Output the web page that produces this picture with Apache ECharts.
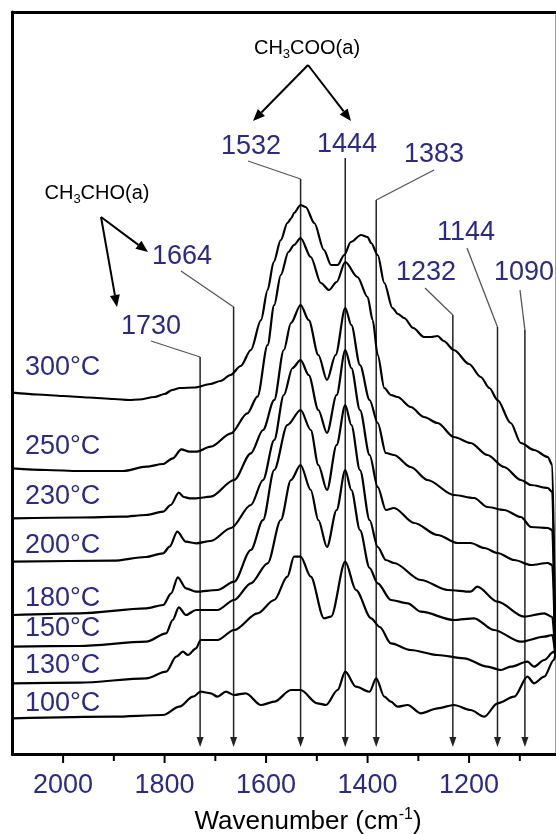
<!DOCTYPE html>
<html>
<head>
<meta charset="utf-8">
<script src="https://cdn.jsdelivr.net/npm/echarts@6/dist/echarts.min.js"></script>
<style>
  html, body { margin: 0; padding: 0; background: #ffffff; }
  #chart { width: 556px; height: 834px; }
</style>
</head>
<body>
<div id="chart"></div>
<script>
// In-situ IR spectra, stacked by temperature: [wavenumber (cm-1), absorbance + offset (a.u.)]
const spec300 = [[2100,3.613],[2050,3.595],[2000,3.58],[1950,3.565],[1900,3.55],[1870,3.54],[1850,3.545],[1820,3.57],[1800,3.60],[1785,3.64],[1770,3.66],[1740,3.665],[1710,3.70],[1690,3.73],[1670,3.79],[1650,3.88],[1630,4.04],[1610,4.34],[1597,4.64],[1585,4.92],[1571,5.14],[1558,5.31],[1550,5.36],[1545,5.41],[1532,5.49],[1522,5.47],[1505,5.31],[1486,5.04],[1472,4.89],[1459,4.89],[1446,4.99],[1433,5.12],[1413,5.19],[1400,5.17],[1393,5.11],[1380,4.99],[1367,4.71],[1351,4.46],[1340,4.40],[1328,4.36],[1310,4.26],[1289,4.17],[1275,4.17],[1262,4.18],[1250,4.13],[1230,4.04],[1200,3.90],[1177,3.77],[1160,3.66],[1144,3.54],[1118,3.31],[1098,3.11],[1072,3.04],[1045,2.97],[1036,2.89],[1030,0.99]];
const spec250 = [[2100,2.857],[2033,2.84],[1968,2.83],[1882,2.83],[1836,2.873],[1803,2.90],[1784,2.957],[1767,3.047],[1751,3.023],[1738,3.023],[1709,3.073],[1669,3.207],[1637,3.407],[1617,3.573],[1597,4.09],[1584,4.49],[1571,4.79],[1556,5.02],[1545,5.09],[1532,5.16],[1512,4.97],[1492,4.71],[1476,4.64],[1461,4.72],[1444,4.92],[1420,4.77],[1400,4.57],[1390,4.34],[1380,3.99],[1367,3.66],[1354,3.59],[1341,3.57],[1315,3.47],[1289,3.37],[1262,3.31],[1230,3.17],[1197,3.11],[1164,2.99],[1131,2.87],[1098,2.74],[1078,2.69],[1045,2.66],[1036,2.62],[1030,0.99]];
const spec230 = [[2100,2.357],[1968,2.365],[1882,2.373],[1837,2.39],[1803,2.423],[1788,2.49],[1772,2.613],[1762,2.57],[1751,2.557],[1738,2.557],[1709,2.573],[1663,2.74],[1630,3.007],[1606,3.24],[1584,3.54],[1565,4.04],[1551,4.31],[1532,4.49],[1516,4.34],[1497,3.99],[1480,3.74],[1463,3.99],[1444,4.46],[1432,4.29],[1415,3.89],[1396,3.54],[1380,3.31],[1364,3.01],[1348,2.99],[1315,2.87],[1282,2.74],[1230,2.59],[1190,2.56],[1164,2.47],[1131,2.44],[1098,2.37],[1078,2.27],[1045,2.26],[1036,2.24],[1030,0.99]];
const spec200 = [[2100,1.923],[1902,1.933],[1837,1.97],[1803,2.007],[1790,2.073],[1775,2.223],[1758,2.123],[1738,2.107],[1709,2.13],[1669,2.26],[1630,2.49],[1606,2.74],[1584,3.14],[1565,3.59],[1548,3.86],[1532,3.94],[1516,3.79],[1497,3.44],[1480,3.21],[1461,3.59],[1444,4.04],[1432,3.86],[1415,3.44],[1396,2.99],[1380,2.67],[1364,2.44],[1348,2.46],[1308,2.31],[1262,2.19],[1223,2.11],[1197,2.11],[1170,2.06],[1144,2.01],[1111,1.94],[1078,1.89],[1045,1.91],[1036,1.89],[1030,0.99]];
const spec180 = [[2100,1.39],[1968,1.407],[1836,1.457],[1803,1.49],[1787,1.607],[1774,1.767],[1758,1.657],[1738,1.623],[1696,1.64],[1663,1.723],[1630,2.04],[1606,2.34],[1584,2.84],[1558,3.29],[1532,3.44],[1512,3.24],[1497,2.89],[1480,2.64],[1461,3.09],[1444,3.49],[1432,3.29],[1415,2.84],[1396,2.34],[1380,2.07],[1364,1.94],[1348,1.91],[1295,1.74],[1242,1.64],[1197,1.623],[1184,1.673],[1144,1.523],[1092,1.373],[1052,1.407],[1036,1.37],[1030,0.99]];
const spec150 = [[2100,1.073],[1968,1.08],[1836,1.123],[1797,1.207],[1784,1.34],[1772,1.467],[1758,1.39],[1738,1.44],[1696,1.44],[1663,1.54],[1630,1.707],[1597,1.907],[1571,2.34],[1551,2.74],[1532,2.89],[1512,2.64],[1497,2.34],[1480,2.07],[1461,2.44],[1444,2.84],[1432,2.64],[1415,2.24],[1396,1.86],[1380,1.707],[1354,1.54],[1321,1.507],[1295,1.423],[1230,1.34],[1190,1.357],[1151,1.24],[1098,1.123],[1052,1.173],[1036,1.19],[1030,0.99]];
const spec130 = [[2100,0.707],[1968,0.713],[1836,0.757],[1797,0.823],[1777,0.973],[1764,1.023],[1754,0.99],[1738,1.057],[1729,1.14],[1696,1.14],[1663,1.24],[1617,1.407],[1584,1.54],[1558,1.773],[1545,1.973],[1532,1.973],[1512,1.773],[1486,1.357],[1472,1.373],[1444,1.923],[1423,1.64],[1393,1.357],[1376,1.27],[1354,1.107],[1315,1.04],[1262,0.99],[1210,0.957],[1164,0.873],[1137,0.84],[1118,0.873],[1085,0.923],[1072,0.873],[1052,0.94],[1033,1.023],[1030,0.99]];
const spec100 = [[2100,0.357],[1902,0.373],[1803,0.39],[1771,0.473],[1744,0.573],[1729,0.623],[1709,0.607],[1696,0.573],[1679,0.623],[1663,0.59],[1640,0.607],[1610,0.49],[1584,0.523],[1551,0.64],[1532,0.64],[1499,0.507],[1482,0.49],[1459,0.64],[1444,0.823],[1423,0.673],[1396,0.623],[1383,0.757],[1367,0.573],[1354,0.523],[1341,0.473],[1321,0.49],[1295,0.407],[1262,0.457],[1230,0.49],[1197,0.44],[1170,0.373],[1144,0.507],[1111,0.573],[1085,0.773],[1072,0.707],[1052,0.773],[1033,0.94],[1030,0.99]];

const spectra = [spec300, spec250, spec230, spec200, spec180, spec150, spec130, spec100];
const temperatures = ['300°C', '250°C', '230°C', '200°C', '180°C', '150°C', '130°C', '100°C'];

// Assigned band positions (cm-1)
const peakWavenumbers = [1730, 1664, 1532, 1444, 1383, 1232, 1144, 1090];
const xTickLabels = [2000, 1800, 1600, 1400, 1200];
const xTickMarks = [2000, 1900, 1800, 1700, 1600, 1500, 1400, 1300, 1200, 1100];

const FONT = '"Liberation Sans", Arial, Helvetica, sans-serif';
const BLUE = '#2c2a82';

const chart = echarts.init(document.getElementById('chart'), null, { renderer: 'canvas' });

chart.setOption({
  backgroundColor: '#ffffff',
  animation: false,
  grid: { left: 12.35, top: 12, width: 543, height: 742, show: false },
  xAxis: [{
    type: 'value', inverse: true, min: 1030, max: 2100, position: 'bottom',
    axisLine: { show: true, onZero: false, lineStyle: { color: '#000', width: 3 } },
    axisTick: { show: false },
    axisLabel: {
      margin: 18, color: BLUE, fontFamily: FONT, fontSize: 27,
      customValues: xTickLabels, formatter: v => String(v)
    },
    splitLine: { show: false }
  }, {
    type: 'value', inverse: true, min: 1030, max: 2100, position: 'top',
    axisLine: { show: true, onZero: false, lineStyle: { color: '#000', width: 3 } },
    axisTick: { show: false }, axisLabel: { show: false }, splitLine: { show: false }
  }],
  yAxis: [{
    type: 'value', min: 0, max: 7.42, position: 'left',
    axisLine: { show: true, onZero: false, lineStyle: { color: '#000', width: 3 } },
    axisTick: { show: false }, axisLabel: { show: false }, splitLine: { show: false }
  }, {
    type: 'value', min: 0, max: 7.42, position: 'right',
    axisLine: { show: true, onZero: false, lineStyle: { color: '#9a9a9a', width: 1 } },
    axisTick: { show: false }, axisLabel: { show: false }, splitLine: { show: false }
  }],
  series: spectra.map((d, i) => ({
    name: temperatures[i], type: 'line', data: d,
    showSymbol: false, smooth: 0.3, smoothMonotone: 'x',
    lineStyle: { color: '#000', width: 2.2 }, z: 3
  }))
});

// ---- annotations ----
function arrowEls(x1, y1, x2, y2, color, width, headLen, headW) {
  const dx = x2 - x1, dy = y2 - y1, L = Math.hypot(dx, dy);
  const ux = dx / L, uy = dy / L, px = -uy, py = ux;
  const bx = x2 - ux * headLen, by = y2 - uy * headLen;
  return [
    { type: 'line', shape: { x1, y1, x2: bx, y2: by }, style: { stroke: color, lineWidth: width }, silent: true },
    { type: 'polygon', shape: { points: [[x2, y2], [bx + px * headW / 2, by + py * headW / 2], [bx - px * headW / 2, by - py * headW / 2]] },
      style: { fill: color }, silent: true }
  ];
}

function text(x, y, str, opts) {
  return {
    type: 'text', x, y, silent: true,
    style: Object.assign({ text: str, fontFamily: FONT, fontSize: 27, fill: BLUE, align: 'center', verticalAlign: 'middle' }, opts || {})
  };
}

const els = [];

// outward tick marks on the wavenumber axis, placed through the axis scale
const axisY = chart.convertToPixel({ yAxisIndex: 0 }, 0);
xTickMarks.forEach(v => {
  const px = chart.convertToPixel({ xAxisIndex: 0 }, v);
  const len = xTickLabels.indexOf(v) >= 0 ? 8 : 6;
  els.push({ type: 'line', shape: { x1: px, y1: axisY + 1, x2: px, y2: axisY + 1 + len },
    style: { stroke: '#000', lineWidth: 2 }, silent: true });
});

const arrowTipY = axisY - 7;

// label centre, leader start, bend y for each band
const bandLayout = {
  1730: { lx: 151, ly: 327, sx: 151, sy: 341, by: 357 },
  1664: { lx: 182, ly: 257, sx: 181, sy: 271, by: 307 },
  1532: { lx: 251, ly: 147, sx: 248, sy: 161, by: 179 },
  1444: { lx: 347, ly: 145, sx: null, sy: 158, by: 158 },
  1383: { lx: 434, ly: 155, sx: 434, sy: 170, by: 200 },
  1232: { lx: 426, ly: 273, sx: 425, sy: 288, by: 315 },
  1144: { lx: 466, ly: 233, sx: 467, sy: 248, by: 327 },
  1090: { lx: 524, ly: 273, sx: 520, sy: 290, by: 330 }
};

peakWavenumbers.forEach(w => {
  const L = bandLayout[w];
  const px = chart.convertToPixel({ xAxisIndex: 0 }, w);
  if (L.sx !== null) {
    els.push({ type: 'line', shape: { x1: L.sx, y1: L.sy, x2: px, y2: L.by }, style: { stroke: '#555', lineWidth: 1.3 }, silent: true, z: 1 });
  }
  arrowEls(px, L.by, px, arrowTipY, '#222', 1.5, 10, 7).forEach(e => { e.z = 1; els.push(e); });
  els.push(text(L.lx, L.ly, String(w)));
});

// temperature labels
const tempLabelY = [368, 447, 497, 546, 599, 629, 666, 704];
temperatures.forEach((t, i) => {
  els.push(text(25, tempLabelY[i], t, { align: 'left', fontSize: 27 }));
});

// species labels with grouping arrows
const chemRich = {
  n: { fontFamily: FONT, fontSize: 20, fill: '#000', lineHeight: 26 },
  s: { fontFamily: FONT, fontSize: 13, fill: '#000', verticalAlign: 'bottom', lineHeight: 14 }
};
els.push({ type: 'text', x: 307, y: 48, silent: true,
  style: { text: '{n|CH}{s|3}{n|COO(a)}', rich: chemRich, align: 'center', verticalAlign: 'middle' } });
els.push({ type: 'text', x: 97, y: 193, silent: true,
  style: { text: '{n|CH}{s|3}{n|CHO(a)}', rich: chemRich, align: 'center', verticalAlign: 'middle' } });

arrowEls(308, 65, 253, 121, '#000', 2, 12, 10).forEach(e => els.push(e));
arrowEls(308, 65, 351, 121, '#000', 2, 12, 10).forEach(e => els.push(e));
arrowEls(101, 217, 148, 252, '#000', 2, 12, 10).forEach(e => els.push(e));
arrowEls(101, 217, 117, 307, '#000', 2, 12, 10).forEach(e => els.push(e));

// axis title
els.push({ type: 'text', x: 308, y: 822, silent: true,
  style: {
    text: '{n|Wavenumber (cm}{p|-1}{n|)}',
    rich: {
      n: { fontFamily: FONT, fontSize: 26, fill: '#000', lineHeight: 30 },
      p: { fontFamily: FONT, fontSize: 16, fill: '#000', verticalAlign: 'top', lineHeight: 16 }
    },
    align: 'center', verticalAlign: 'middle'
  } });

chart.setOption({ graphic: { elements: els } });
</script>
</body>
</html>
